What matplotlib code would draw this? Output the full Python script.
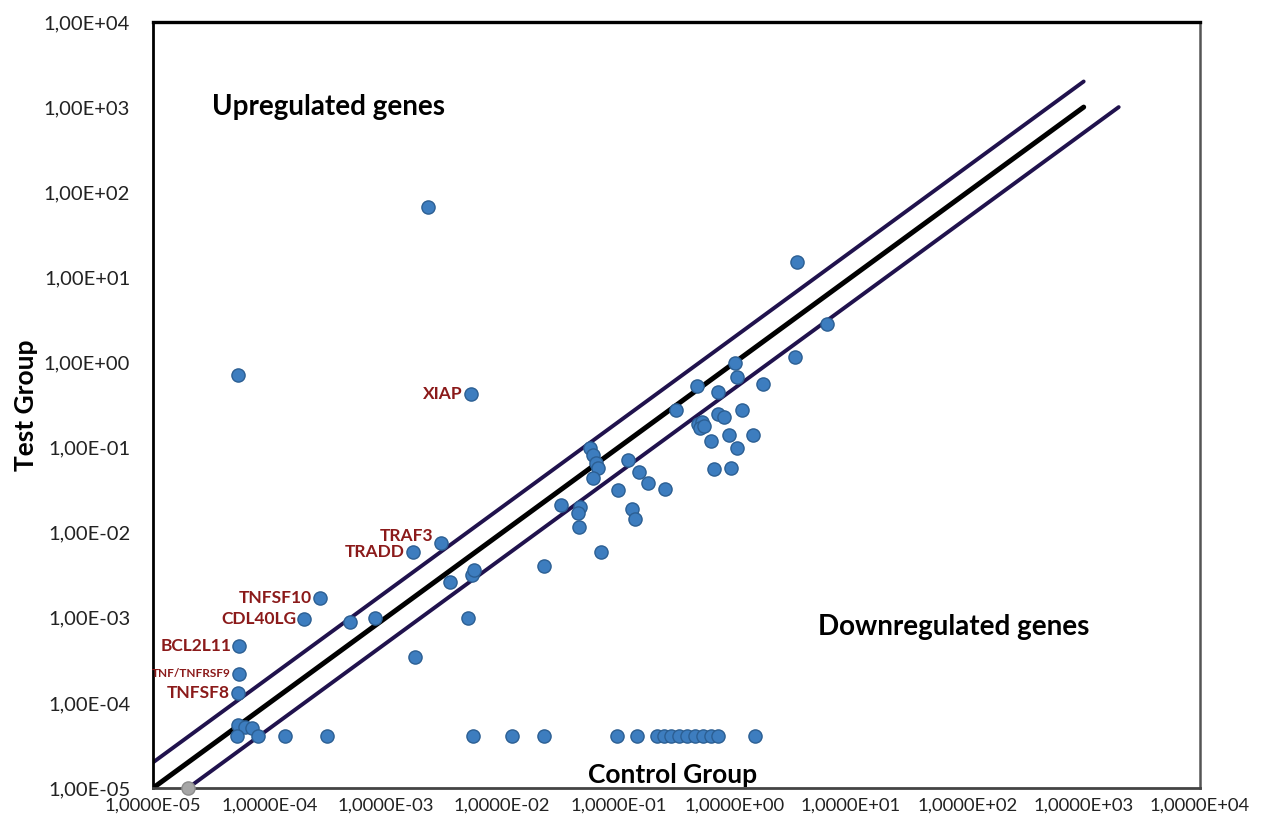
import numpy as np
import matplotlib.pyplot as plt
from matplotlib.ticker import FixedLocator, FuncFormatter, NullLocator

plt.rcParams['font.family'] = ['Lato', 'DejaVu Sans']

# Гены с подписями: контроль / тест
label_genes = ['XIAP', 'TRAF3', 'TRADD', 'TNFSF10', 'CDL40LG', 'BCL2L11', 'TNF/TNFRSF9', 'TNFSF8']
label_ctrl = [5.4e-3, 3.0e-3, 1.7e-3, 2.7e-4, 2.0e-4, 5.5e-5, 5.5e-5, 5.4e-5]
label_test = [0.43, 7.5e-3, 5.9e-3, 1.7e-3, 9.7e-4, 4.6e-4, 2.2e-4, 1.3e-4]
label_size = [12.5, 12.5, 12.5, 12.5, 12.5, 12.5, 8.5, 12.5]
label_dy = [0, 7, 0, 0, 0, 0, 0, 0]  # сдвиг подписи вверх, пикс.

# Остальные гены
ctrl = [2.3e-3, 5.4e-5, 3.4, 6.2, 3.3, 1.75, 1.0, 1.05, 0.47, 0.72,
        0.31, 1.16, 0.48, 0.52, 0.50, 0.55, 0.72, 0.81, 0.62, 0.90,
        1.05, 1.45, 0.67, 0.93, 0.057, 0.061, 0.064, 0.067, 0.060, 0.12,
        0.15, 0.18, 0.25, 0.10, 0.13, 0.14, 0.032, 0.047, 0.045, 0.046,
        0.071, 0.023, 5.5e-3, 5.7e-3, 3.6e-3, 4.9e-4, 8.1e-4, 5.1e-3, 1.8e-3,
        5.4e-5, 6.2e-5, 5.3e-5, 7.1e-5, 8.0e-5]
test = [67, 0.71, 15, 2.8, 1.15, 0.56, 0.98, 0.67, 0.53, 0.45,
        0.28, 0.28, 0.19, 0.20, 0.17, 0.18, 0.25, 0.23, 0.12, 0.14,
        0.10, 0.14, 0.056, 0.057, 0.10, 0.082, 0.065, 0.057, 0.044, 0.071,
        0.052, 0.038, 0.033, 0.032, 0.019, 0.0145, 0.021, 0.020, 0.017, 0.0116,
        0.0059, 0.0041, 3.2e-3, 3.6e-3, 2.6e-3, 8.9e-4, 9.9e-4, 9.9e-4, 3.5e-4,
        5.5e-5, 5.2e-5, 4.1e-5, 5.1e-5, 4.1e-5]

# Гены, не обнаруженные в тестовой группе
nd_ctrl = [1.36e-4, 3.1e-4, 5.6e-3, 0.0122, 0.023, 0.098, 0.145,
           0.216, 0.249, 0.286, 0.334, 0.392, 0.459, 0.538, 0.631, 0.725, 1.5]
nd_test = [4.1e-5] * len(nd_ctrl)

# Нулевая точка
zero_ctrl = [2.0e-5]
zero_test = [1.0e-5]

# Диагональ и границы двукратного изменения
diag_x = np.array([1e-5, 1e3])
fold = 2.0

fig = plt.figure(figsize=(12.7, 8.33), dpi=100)
ax = fig.add_axes([0.1205, 0.054, 0.8244, 0.9196])
ax.set_xscale('log')
ax.set_yscale('log')
ax.set_xlim(1e-5, 1e4)
ax.set_ylim(1e-5, 1e4)

navy = '#20124d'
ax.plot(diag_x, diag_x * fold, color=navy, lw=2.8, solid_capstyle='round', zorder=2)
ax.plot(diag_x, diag_x, color='black', lw=3.6, solid_capstyle='round', zorder=2)
ax.plot(diag_x * fold, diag_x, color=navy, lw=2.8, solid_capstyle='round', zorder=2)

pt = dict(s=90, color='#3d7dbf', edgecolors='#2c5f93', linewidths=1.0, zorder=3, clip_on=False)
ax.scatter(ctrl, test, **pt)
ax.scatter(nd_ctrl, nd_test, **pt)
ax.scatter(label_ctrl, label_test, **pt)
ax.scatter(zero_ctrl, zero_test, s=90, color='#a6a6a6', edgecolors='#8c8c8c',
           linewidths=1.0, zorder=3, clip_on=False)

for name, x, y, fs, dy in zip(label_genes, label_ctrl, label_test, label_size, label_dy):
    ax.annotate(name, (x, y), xytext=(-8, dy), textcoords='offset pixels',
                ha='right', va='center', fontsize=fs, fontweight='bold', color='#8b1a1a')

ax.text(0.056, 0.889, 'Upregulated genes', transform=ax.transAxes,
        fontsize=20, fontweight='bold', va='center', ha='left')
ax.text(0.635, 0.210, 'Downregulated genes', transform=ax.transAxes,
        fontsize=20, fontweight='bold', va='center', ha='left')
ax.text(0.496, 0.017, 'Control Group', transform=ax.transAxes,
        fontsize=19, fontweight='bold', va='center', ha='center')

ticks = [10.0 ** k for k in range(-5, 5)]
ax.xaxis.set_major_locator(FixedLocator(ticks))
ax.yaxis.set_major_locator(FixedLocator(ticks))
ax.xaxis.set_minor_locator(NullLocator())
ax.yaxis.set_minor_locator(NullLocator())
ax.xaxis.set_major_formatter(FuncFormatter(lambda v, _: '1,0000E%+03d' % round(np.log10(v))))
ax.yaxis.set_major_formatter(FuncFormatter(lambda v, _: '1,00E%+03d' % round(np.log10(v))))
ax.tick_params(axis='x', length=0, pad=7, labelsize=13.3, colors='#222222')
ax.tick_params(axis='y', length=0, pad=16.5, labelsize=14.5, colors='#222222')

ax.set_ylabel('Test Group', fontsize=19, fontweight='bold', labelpad=4)

ax.spines['top'].set_linewidth(2.4)
ax.spines['top'].set_color('black')
ax.spines['left'].set_linewidth(2.0)
ax.spines['left'].set_color('black')
ax.spines['right'].set_linewidth(1.8)
ax.spines['right'].set_color('#555555')
ax.spines['bottom'].set_linewidth(2.0)
ax.spines['bottom'].set_color('#444444')

plt.savefig('out.png', dpi=100)
